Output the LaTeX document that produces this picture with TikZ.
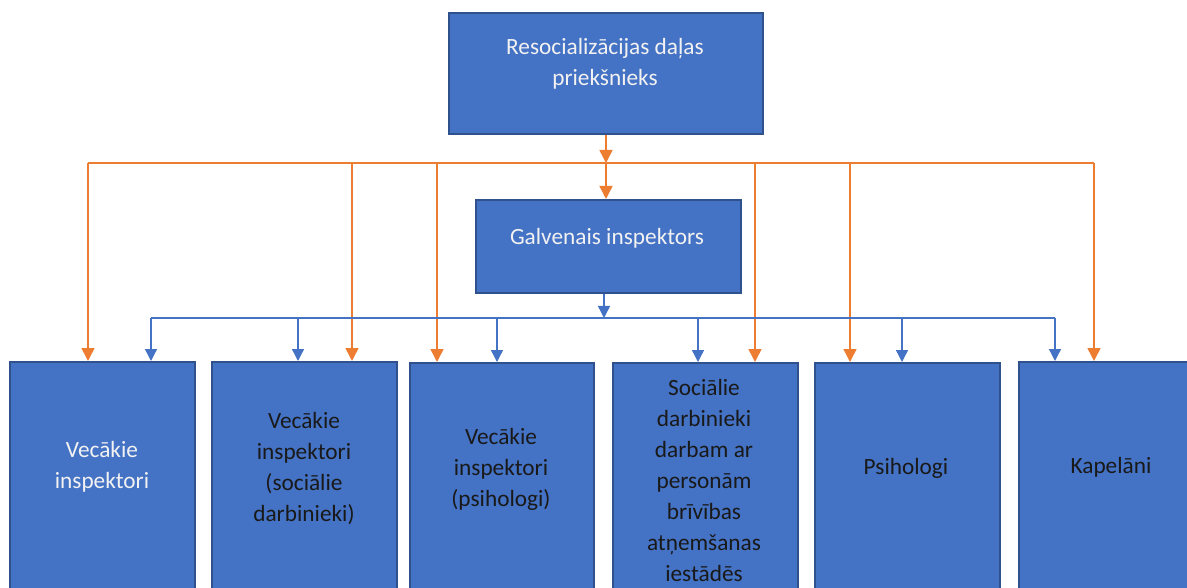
\documentclass[tikz,border=0pt]{standalone}
\usepackage{fontspec}
\setmainfont{Carlito}
\usetikzlibrary{arrows.meta}
\definecolor{boxblue}{HTML}{4472C4}
\definecolor{boxedge}{HTML}{2F528F}
\definecolor{org}{HTML}{ED7D31}
\definecolor{lightw}{HTML}{F2F2F2}
\begin{document}
\begin{tikzpicture}[x=1pt,y=-1pt,
  box/.style={rectangle,draw=boxedge,line width=1.6pt,fill=boxblue,inner sep=0pt,anchor=north west},
  lbl/.style={align=center,font=\fontsize{23.3}{31}\selectfont,inner sep=0pt},
  wlbl/.style={lbl,text=lightw},
  klbl/.style={lbl,text=black!90},
  oline/.style={draw=org,line width=1.5pt},
  oarrow/.style={oline,-{Triangle[width=13pt,length=13pt]}},
  bline/.style={draw=boxblue,line width=1.4pt},
  barrow/.style={bline,-{Triangle[width=12pt,length=12pt]}}]
\path[use as bounding box,clip] (0,0) rectangle (1187,588);
% boxes
\node[box,minimum width=314pt,minimum height=121pt] (top) at (448,12) {};
\node[wlbl] (toptxt) at (605,64) {Resocializācijas daļas\\priekšnieks};
\node[box,minimum width=265pt,minimum height=93pt] (galv) at (475,199) {};
\node[wlbl] (galvtxt) at (607,238) {Galvenais inspektors};
\node[box,minimum width=185pt,minimum height=260pt] (b1) at (9,361) {};
\node[box,minimum width=185pt,minimum height=260pt] (b2) at (211,361) {};
\node[box,minimum width=184pt,minimum height=260pt] (b3) at (409,362) {};
\node[box,minimum width=185pt,minimum height=260pt] (b4) at (612,362) {};
\node[box,minimum width=185pt,minimum height=260pt] (b5) at (814,362) {};
\node[box,minimum width=186pt,minimum height=260pt] (b6) at (1018,361) {};
\node[wlbl] (t1) at (102,467) {Vecākie\\inspektori};
\node[klbl] (t2) at (304,469) {Vecākie\\inspektori\\(sociālie\\darbinieki)};
\node[klbl] (t3) at (501,469) {Vecākie\\inspektori\\(psihologi)};
\node[klbl] (t4) at (704,480) {Sociālie\\darbinieki\\darbam ar\\personām\\brīvības\\atņemšanas\\iestādēs};
\node[klbl] (t5) at (906,468) {Psihologi};
\node[klbl] (t6) at (1111,467) {Kapelāni};
% orange bus
\coordinate (om) at (606,163);
\coordinate (o1) at (88,163);
\coordinate (o2) at (352,163);
\coordinate (o3) at (437,163);
\coordinate (o4) at (755,163);
\coordinate (o5) at (850,163);
\coordinate (o6) at (1094,163);
\draw[oarrow] (om |- top.south) -- (om);
\draw[oarrow] (om) -- (om |- galv.north);
\draw[oline] (o1) -- (o6);
\draw[oarrow] (o1) -- (o1 |- b1.north);
\draw[oarrow] (o2) -- (o2 |- b2.north);
\draw[oarrow] (o3) -- (o3 |- b3.north);
\draw[oarrow] (o4) -- (o4 |- b4.north);
\draw[oarrow] (o5) -- (o5 |- b5.north);
\draw[oarrow] (o6) -- (o6 |- b6.north);
% blue bus
\coordinate (bm) at (604,318);
\coordinate (p1) at (151,318);
\coordinate (p2) at (298,318);
\coordinate (p3) at (497,318);
\coordinate (p4) at (698,318);
\coordinate (p5) at (902,318);
\coordinate (p6) at (1055,318);
\draw[barrow] (bm |- galv.south) -- (bm);
\draw[bline] (p1) -- (p6);
\draw[barrow] (p1) -- (p1 |- b1.north);
\draw[barrow] (p2) -- (p2 |- b2.north);
\draw[barrow] (p3) -- (p3 |- b3.north);
\draw[barrow] (p4) -- (p4 |- b4.north);
\draw[barrow] (p5) -- (p5 |- b5.north);
\draw[barrow] (p6) -- (p6 |- b6.north);
\end{tikzpicture}
\end{document}
